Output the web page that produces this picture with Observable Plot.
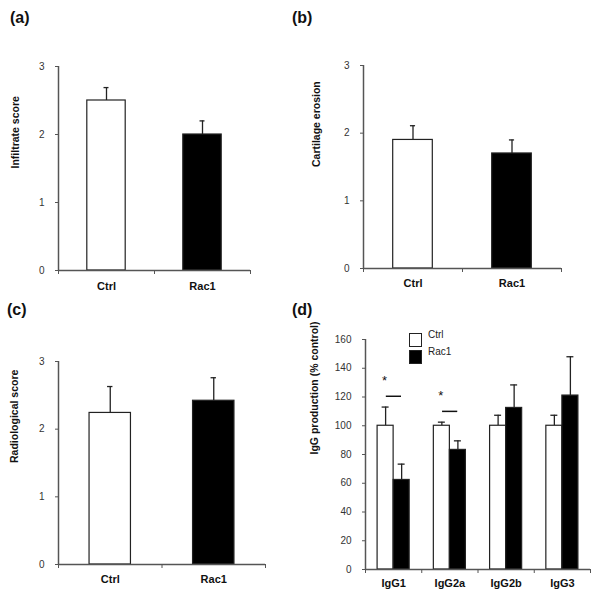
<!DOCTYPE html>
<html>
<head>
<meta charset="utf-8">
<script src="https://cdn.jsdelivr.net/npm/d3@7"></script>
<script src="https://cdn.jsdelivr.net/npm/@observablehq/plot@0.6"></script>
<style>
  body { margin: 0; background: #fff; }
  #wrap { position: relative; width: 600px; height: 595px; background: #fff; font-family: Arial, "Liberation Sans", sans-serif; overflow: hidden; }
  .panel { position: absolute; }
  .plab { position: absolute; font-weight: bold; font-size: 16px; line-height: 1; color: #111; }
  .leg { position: absolute; font-size: 10px; line-height: 1; color: #222; }
  .sw { position: absolute; width: 11px; height: 12px; border: 1px solid #222; }
</style>
</head>
<body>
<div id="wrap">
  <div class="panel" id="pa" style="left:0;top:0"></div>
  <div class="panel" id="pb" style="left:300px;top:0"></div>
  <div class="panel" id="pc" style="left:0;top:290px"></div>
  <div class="panel" id="pd" style="left:300px;top:290px"></div>
  <div class="plab" style="left:10px;top:9.5px">(a)</div>
  <div class="plab" style="left:292px;top:9.5px">(b)</div>
  <div class="plab" style="left:7px;top:301.5px">(c)</div>
  <div class="plab" style="left:292px;top:301.5px">(d)</div>
  <div class="sw" style="left:409px;top:333px;background:#fff"></div>
  <div class="sw" style="left:409px;top:350px;background:#000"></div>
  <div class="leg" id="legCtrl" style="left:428px;top:330px"></div>
  <div class="leg" id="legRac" style="left:428px;top:347px"></div>
</div>
<script>
// ---------- data ----------
const groups = ["Ctrl", "Rac1"];
const scoreTicks = [0, 1, 2, 3];

const infiltrateMean = [2.5, 2.0];
const infiltrateErr = [0.19, 0.2];

const cartilageMean = [1.9, 1.7];
const cartilageErr = [0.21, 0.2];

const radioMean = [2.24, 2.42];
const radioErr = [0.39, 0.34];

const igClasses = ["IgG1", "IgG2a", "IgG2b", "IgG3"];
const ctrlIgG = [100, 100, 100, 100];
const ctrlIgGErr = [13, 2.5, 7.3, 7.3];
const rac1IgG = [62.3, 83.2, 112.4, 121];
const rac1IgGErr = [11, 6.3, 16, 27];
const igTicks = [0, 20, 40, 60, 80, 100, 120, 140, 160];

const sigClasses = ["IgG1", "IgG2a"];
const sigStarY = [131, 120.5];
const sigLineY = [120.5, 110];

document.getElementById("legCtrl").textContent = groups[0];
document.getElementById("legRac").textContent = groups[1];

const AXIS = "#555";
const BAR = "#222";
const TXT = "#333";
const FONT = "Arial, 'Liberation Sans', sans-serif";

function scorePanel(el, means, errs, ylabel, g) {
  const data = groups.map((name, i) => ({i, name, mean: means[i], top: means[i] + errs[i]}));
  const cap = g.cap;
  const plot = Plot.plot({
    width: g.width, height: g.height,
    marginLeft: g.ml, marginTop: g.mt, marginRight: g.mr, marginBottom: g.mb,
    style: {fontFamily: FONT, fontSize: "10px", color: TXT, background: "transparent"},
    x: {domain: [0, groups.length], axis: null},
    y: {domain: [0, 3], axis: null},
    marks: [
      Plot.ruleX(data, {x: d => d.i + 0.5, y1: "mean", y2: "top", stroke: BAR, strokeWidth: 1.3}),
      Plot.ruleY(data, {y: "top", x1: d => d.i + 0.5 - cap, x2: d => d.i + 0.5 + cap, stroke: BAR, strokeWidth: 1.3}),
      Plot.rectY(data.filter(d => d.i === 0), {x1: d => d.i + 0.3, x2: d => d.i + 0.7, y1: 0, y2: "mean", fill: "white", stroke: BAR, strokeWidth: 1.2}),
      Plot.rectY(data.filter(d => d.i === 1), {x1: d => d.i + 0.3, x2: d => d.i + 0.7, y1: 0, y2: "mean", fill: "black", stroke: BAR, strokeWidth: 1.2}),
      Plot.ruleX([0], {stroke: AXIS, strokeWidth: 1.5}),
      Plot.ruleY([0], {stroke: AXIS, strokeWidth: 1.5}),
      Plot.axisY({ticks: scoreTicks, tickSize: 3, tickPadding: 11, tickFormat: d => String(d), label: null, stroke: AXIS, fill: TXT}),
      Plot.axisX({ticks: d3.range(groups.length + 1), tickSize: 4, tickFormat: () => "", label: null, stroke: AXIS}),
      Plot.axisX({ticks: groups.map((_, i) => i + 0.5), tickSize: 0, tickPadding: g.xpad, tickFormat: v => groups[Math.floor(v)], label: null, fontWeight: "bold", fontSize: 11, fill: "#111"}),
      Plot.text([ylabel], {text: d => d, frameAnchor: "left", rotate: -90, dx: g.ldx, fontWeight: "bold", fontSize: 10.5, fill: "#111"})
    ]
  });
  document.getElementById(el).appendChild(plot);
}

scorePanel("pa", infiltrateMean, infiltrateErr, "Infiltrate score",
  {width: 300, height: 296, ml: 58, mt: 66, mr: 50, mb: 26, cap: 0.026, xpad: 12, ldx: -42.5});
scorePanel("pb", cartilageMean, cartilageErr, "Cartilage erosion",
  {width: 300, height: 296, ml: 63, mt: 65, mr: 39, mb: 28, cap: 0.026, xpad: 11, ldx: -46.5});
scorePanel("pc", radioMean, radioErr, "Radiological score",
  {width: 300, height: 305, ml: 58, mt: 71, mr: 35, mb: 31, cap: 0.026, xpad: 11, ldx: -44});

// ---------- panel d ----------
(function () {
  const rows = [];
  igClasses.forEach((c, i) => {
    rows.push({i, series: "Ctrl", v: ctrlIgG[i], top: ctrlIgG[i] + ctrlIgGErr[i], x1: i + 0.215, x2: i + 0.5});
    rows.push({i, series: "Rac1", v: rac1IgG[i], top: rac1IgG[i] + rac1IgGErr[i], x1: i + 0.5, x2: i + 0.785});
  });
  const sig = sigClasses.map((c, k) => ({i: igClasses.indexOf(c), star: sigStarY[k], line: sigLineY[k]}));
  const cap = 0.062;
  const plot = Plot.plot({
    width: 300, height: 305,
    marginLeft: 65, marginTop: 49, marginRight: 10, marginBottom: 26,
    style: {fontFamily: FONT, fontSize: "10px", color: TXT, background: "transparent"},
    x: {domain: [0, igClasses.length], axis: null},
    y: {domain: [0, 160], axis: null},
    marks: [
      Plot.ruleX(rows, {x: d => (d.x1 + d.x2) / 2, y1: "v", y2: "top", stroke: BAR, strokeWidth: 1.3}),
      Plot.ruleY(rows, {y: "top", x1: d => (d.x1 + d.x2) / 2 - cap, x2: d => (d.x1 + d.x2) / 2 + cap, stroke: BAR, strokeWidth: 1.3}),
      Plot.rectY(rows.filter(d => d.series === "Ctrl"), {x1: "x1", x2: "x2", y1: 0, y2: "v", fill: "white", stroke: BAR, strokeWidth: 1.2}),
      Plot.rectY(rows.filter(d => d.series === "Rac1"), {x1: "x1", x2: "x2", y1: 0, y2: "v", fill: "black", stroke: BAR, strokeWidth: 1.2}),
      Plot.text(sig, {x: d => d.i + 0.34, y: "star", text: () => "*", fontSize: 13, fill: "#111"}),
      Plot.ruleY(sig, {y: "line", x1: d => d.i + 0.37, x2: d => d.i + 0.64, stroke: "#111", strokeWidth: 1.5}),
      Plot.ruleX([0], {stroke: AXIS, strokeWidth: 1.5}),
      Plot.ruleY([0], {stroke: AXIS, strokeWidth: 1.5}),
      Plot.axisY({ticks: igTicks, tickSize: 3, tickPadding: 11, tickFormat: d => String(d), label: null, stroke: AXIS, fill: TXT}),
      Plot.axisX({ticks: d3.range(igClasses.length + 1), tickSize: 4, tickFormat: () => "", label: null, stroke: AXIS}),
      Plot.axisX({ticks: igClasses.map((_, i) => i + 0.5), tickSize: 0, tickPadding: 10, tickFormat: v => igClasses[Math.floor(v)], label: null, fontWeight: "bold", fontSize: 11, fill: "#111"}),
      Plot.text(["IgG production (% control)"], {text: d => d, frameAnchor: "left", rotate: -90, dx: -51, fontWeight: "bold", fontSize: 10.5, fill: "#111"})
    ]
  });
  document.getElementById("pd").appendChild(plot);
})();
</script>
</body>
</html>
